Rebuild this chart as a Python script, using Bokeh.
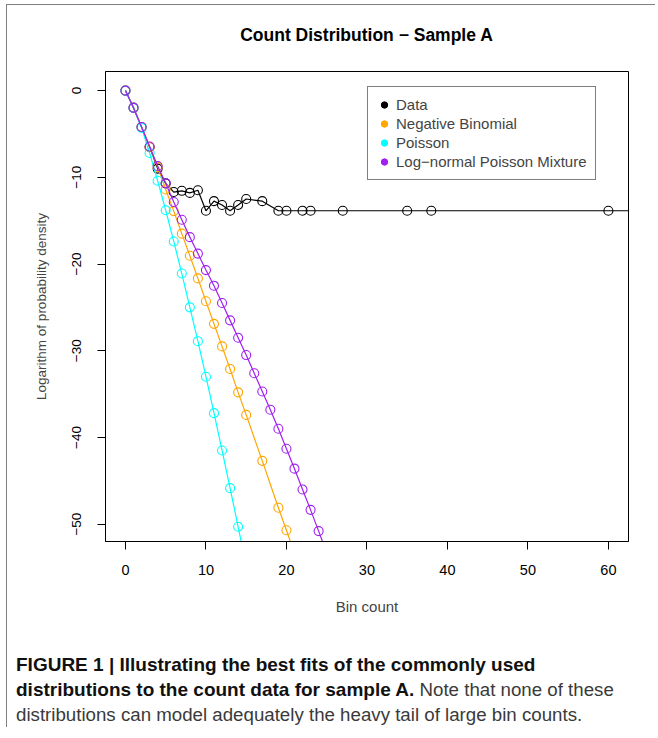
from bokeh.plotting import figure
from bokeh.models import Range1d, Legend, LegendItem, Div
from bokeh.layouts import column
from bokeh.embed import file_html
from bokeh.resources import INLINE

# ---- data ----
data_x = [0, 1, 2, 3, 4, 5, 6, 7, 8, 9, 10, 11, 12, 13, 14, 15, 17, 19, 20, 22, 23, 27, 35, 38, 60, 75]
data_y = [0, -1.96, -4.2, -6.5, -9.0, -10.7, -11.7, -11.56, -11.8, -11.5, -13.86, -12.75, -13.2,
          -13.86, -13.2, -12.5, -12.75, -13.86, -13.86, -13.86, -13.86, -13.86, -13.86, -13.86, -13.86, -13.86]

nb_x = [0, 1, 2, 3, 4, 5, 6, 7, 8, 9, 10, 11, 12, 13, 14, 15, 17, 19, 20, 22]
nb_y = [0, -2.0, -4.2, -6.5, -8.8, -11.4, -13.9, -16.5, -19.05, -21.66, -24.3, -26.9, -29.5,
        -32.1, -34.8, -37.4, -42.7, -48.1, -50.7, -56.0]

pois_x = [0, 1, 2, 3, 4, 5, 6, 7, 8, 9, 10, 11, 12, 13, 14, 15]
pois_y = [0, -2.0, -4.3, -7.2, -10.4, -13.8, -17.4, -21.1, -25.0, -28.9, -33.0, -37.2, -41.5,
          -45.85, -50.3, -54.8]

lnp_x = [0, 1, 2, 3, 4, 5, 6, 7, 8, 9, 10, 11, 12, 13, 14, 15, 16, 17, 18, 19, 20, 21, 22, 23, 24, 25]
lnp_y = [0, -2.0, -4.2, -6.45, -8.7, -10.7, -12.85, -14.9, -16.9, -18.8, -20.7, -22.5, -24.5,
         -26.5, -28.5, -30.5, -32.6, -34.7, -36.8, -39.0, -41.3, -43.6, -46.0, -48.35, -50.8, -53.3]

series_names = ["Data", "Negative Binomial", "Poisson", "Log\u2212normal Poisson Mixture"]
series_colors = ["black", "#FFA500", "#00FFFF", "#A020F0"]

x_ticks = [0, 10, 20, 30, 40, 50, 60]
y_ticks = [0, -10, -20, -30, -40, -50]
y_tick_labels = ["0", "\u221210", "\u221220", "\u221230", "\u221240", "\u221250"]

title_text = "Count Distribution \u2212 Sample A"
x_label = "Bin count"
y_label = "Logarithm of probability density"

FONT = "Liberation Sans"

title_div = Div(
    text=title_text, width=648, height=24, margin=0,
    styles={"font-family": FONT, "font-size": "17.5px", "font-weight": "bold",
            "line-height": "20px", "padding-top": "20px", "padding-left": "98px",
            "width": "523px", "text-align": "center", "color": "black",
            "box-sizing": "content-box"},
)

p = figure(width=648, height=600, output_backend="svg", toolbar_location=None,
           x_range=Range1d(-2.48, 62.5), y_range=Range1d(-52.0, 2.2),
           min_border_left=98, min_border_top=22, min_border_right=27, min_border_bottom=108)
p.grid.visible = False
p.outline_line_color = "black"
p.outline_line_width = 1

for ax in (p.xaxis[0], p.yaxis[0]):
    ax.major_tick_in = 0
    ax.major_tick_out = 8
    ax.minor_tick_out = 0
    ax.minor_tick_in = 0
    ax.major_label_text_font = FONT
    ax.major_label_text_color = "black"
    ax.axis_label_text_font = FONT
    ax.axis_label_text_font_style = "normal"
    ax.axis_line_color = "black"
    ax.major_tick_line_color = "black"

p.xaxis.major_label_text_font_size = "14.5px"
p.yaxis.major_label_text_font_size = "13.5px"
p.xaxis.axis_label_text_font_size = "15px"
p.yaxis.axis_label_text_font_size = "13.5px"

p.xaxis.ticker = x_ticks
p.yaxis.ticker = y_ticks
p.yaxis.major_label_overrides = {t: s for t, s in zip(y_ticks, y_tick_labels)}
p.yaxis.major_label_orientation = "vertical"
p.xaxis.axis_label = x_label
p.yaxis.axis_label = y_label
p.xaxis.major_label_standoff = 15
p.xaxis.axis_label_standoff = 20
p.yaxis.major_label_standoff = 16
p.yaxis.axis_label_standoff = 21

series = [(data_x, data_y), (nb_x, nb_y), (pois_x, pois_y), (lnp_x, lnp_y)]
for (xs, ys), col in zip(series, series_colors):
    p.line(xs, ys, line_color=col, line_width=1.2)
    p.scatter(xs, ys, marker="circle", size=9, fill_color=None, line_color=col, line_width=1.1)

# legend with filled dots (proxy glyphs placed outside the visible range)
items = []
for name, col in zip(series_names, series_colors):
    r = p.scatter(x=[-100], y=[-100], marker="circle", size=8, fill_color=col, line_color=col)
    items.append(LegendItem(label=name, renderers=[r]))

legend = Legend(items=items, location=(262, 361), padding=8, spacing=0, margin=0,
                label_height=19, glyph_height=19, glyph_width=16, label_standoff=4,
                label_text_font=FONT, label_text_font_size="15px",
                border_line_color="black", border_line_width=1,
                background_fill_alpha=1.0)
p.add_layout(legend, "center")

caption = Div(
    text=('<span style="font-weight:bold;color:#111;font-size:19px">FIGURE 1 | Illustrating the best fits of the commonly used<br>'
          'distributions to the count data for sample A.</span> Note that none of these<br>'
          'distributions can model adequately the heavy tail of large bin counts.'),
    width=640, margin=0,
    styles={"font-family": "Liberation Sans", "font-size": "18.7px", "line-height": "25px",
            "color": "#3a3a3a", "padding-left": "9px", "padding-top": "3px", "white-space": "nowrap"},
)

layout = column(title_div, p, caption, spacing=0, margin=(4, 0, 0, 6),
                styles={"border-left": "1px solid #808080", "border-top": "1px solid #808080"})

open("out.html", "w").write(file_html(layout, INLINE))
